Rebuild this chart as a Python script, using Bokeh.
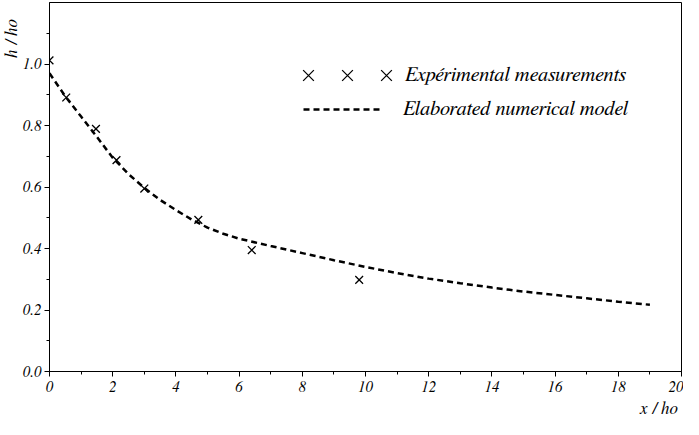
from bokeh.plotting import figure
from bokeh.models import (Range1d, SingleIntervalTicker, PrintfTickFormatter, Legend,
                          LegendItem, Title)
from bokeh.embed import file_html
from bokeh.resources import INLINE

# Experimental measurements
meas_x = [0.0, 0.53, 1.47, 2.12, 3.0, 4.71, 6.4, 9.8]
meas_y = [1.012, 0.891, 0.789, 0.6875, 0.595, 0.493, 0.395, 0.298]

# Elaborated numerical model
model_x = [0.0, 0.5, 1.0, 1.5, 2.0, 2.5, 3.0, 3.5, 4.0, 4.5, 5.0, 5.5, 6.0, 7.0, 8.0,
           9.0, 10.0, 11.0, 12.0, 13.0, 14.0, 15.0, 16.0, 17.0, 18.0, 19.0]
model_y = [0.970, 0.895, 0.829, 0.763, 0.695, 0.642, 0.597, 0.558, 0.525, 0.494, 0.468,
           0.448, 0.432, 0.408, 0.385, 0.362, 0.340, 0.320, 0.302, 0.287, 0.273, 0.260,
           0.249, 0.238, 0.227, 0.217]

label_meas = "Expérimental measurements"
label_model = "Elaborated numerical model"
x_title = "x / ho"
y_title = "h / ho"

SERIF = "FreeSerif, 'Liberation Serif', 'Times New Roman', serif"

p = figure(width=683, height=419, output_backend="svg", toolbar_location=None,
           x_range=Range1d(0, 20), y_range=Range1d(0, 1.2))
p.min_border_left = 0
p.min_border_right = 2
p.min_border_top = 2
p.min_border_bottom = 0
p.background_fill_color = "white"
p.border_fill_color = "white"
p.outline_line_color = "black"
p.outline_line_width = 1
p.grid.visible = False

xa = p.xaxis[0]
ya = p.yaxis[0]
xa.ticker = SingleIntervalTicker(interval=2, num_minor_ticks=2)
ya.ticker = SingleIntervalTicker(interval=0.2, num_minor_ticks=2)
ya.formatter = PrintfTickFormatter(format="%.1f")
for ax in (xa, ya):
    ax.axis_line_color = "black"
    ax.major_tick_line_color = "black"
    ax.minor_tick_line_color = "black"
    ax.major_tick_in = 0
    ax.major_tick_out = 5
    ax.minor_tick_in = 0
    ax.minor_tick_out = 3
    ax.major_label_text_font = SERIF
    ax.major_label_text_font_style = "italic"
    ax.major_label_text_font_size = "15px"
    ax.major_label_text_color = "black"
xa.major_label_standoff = 5
ya.major_label_standoff = 3

line = p.line(model_x, model_y, line_color="black", line_width=2.5, line_dash="6 4")
sc = p.scatter(meas_x, meas_y, marker="x", size=11, line_color="black", line_width=1.3)

common = dict(border_line_color=None, background_fill_alpha=0, padding=0, margin=0,
              label_text_font=SERIF, label_text_font_style="italic",
              label_text_font_size="20.5px", label_text_color="black", label_width=0,
              label_height=0)

leg1 = Legend(items=[LegendItem(label=" ", renderers=[sc]),
                     LegendItem(label=" ", renderers=[sc]),
                     LegendItem(label=label_meas, renderers=[sc])],
              orientation="horizontal", location=(240, 277), glyph_width=38,
              glyph_height=38, label_standoff=0, spacing=1, **common)
leg2 = Legend(items=[LegendItem(label=label_model, renderers=[line])],
              location=(254, 251), glyph_width=80, glyph_height=20,
              label_standoff=20, spacing=0, **common)
p.add_layout(leg1)
p.add_layout(leg2)

ty = Title(text=y_title, align="right", text_font=SERIF, text_font_style="italic",
           text_font_size="17px", text_color="black", standoff=0, offset=17)
tx = Title(text=x_title, align="right", text_font=SERIF, text_font_style="italic",
           text_font_size="17px", text_color="black", standoff=6, offset=4)
p.add_layout(ty, "left")
p.add_layout(tx, "below")

open("out.html", "w").write(file_html(p, INLINE))
